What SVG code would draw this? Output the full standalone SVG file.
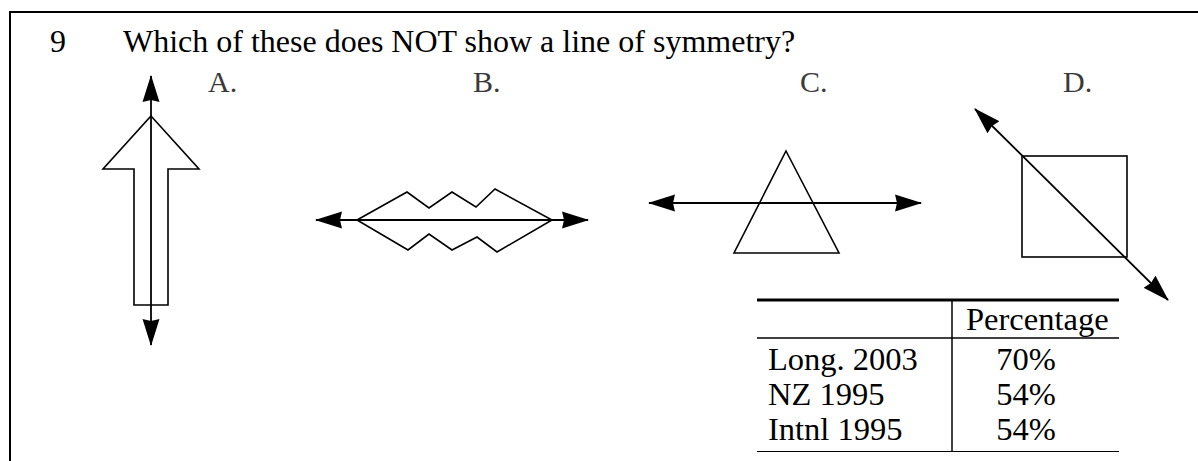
<svg xmlns="http://www.w3.org/2000/svg" width="1198" height="461" viewBox="0 0 1198 461">
<style>
.t{font-family:"Liberation Serif","Times New Roman",serif;fill:#000}
.cell{font-family:"Liberation Serif","Times New Roman",serif;font-size:32.5px;fill:#000}
.lbl{font-family:"Liberation Serif","Times New Roman",serif;font-size:30px;fill:#3a3a3a}
.shape{fill:none;stroke:#000;stroke-width:1.6;stroke-linejoin:miter}
.axis{fill:none;stroke:#000;stroke-width:1.8}
</style>
<defs>
<marker id="ah" viewBox="0 0 27 18" refX="26" refY="9" markerWidth="27" markerHeight="18" markerUnits="userSpaceOnUse" orient="auto-start-reverse">
<path d="M0,0.5 L27,9 L0,17.5 L2,9 Z" fill="#000"/>
</marker>
</defs>
<rect width="1198" height="461" fill="#fff"/>
<g id="frame">
<line x1="10" y1="12" x2="1198" y2="12" stroke="#000" stroke-width="2"/>
<line x1="10" y1="11" x2="10" y2="461" stroke="#000" stroke-width="2"/>
</g>
<g id="title">
<text class="t" x="50" y="52" font-size="32">9</text>
<text class="t" x="123" y="52" font-size="32">Which of these does NOT show a line of symmetry?</text>
</g>
<g id="optA">
<text class="lbl" x="208" y="92">A.</text>
<polygon class="shape" points="151,116 199,169 168,169 168,305 134,305 134,169 103,169"/>
</g>
<g id="optB">
<text class="lbl" x="473" y="92">B.</text>
<polygon class="shape" points="357,220 407,192 429,208 452,192 476,207 495,189 552,220 497,252 477,237 452,250 429,234 408,250"/>
</g>
<g id="optC">
<text class="lbl" x="800" y="92">C.</text>
<polygon class="shape" points="786,151 839,253 734,253"/>
</g>
<g id="optD">
<text class="lbl" x="1063" y="92">D.</text>
<rect class="shape" x="1022" y="156" width="105" height="101"/>
</g>
<g id="connectors">
<line class="axis" x1="151" y1="76" x2="151" y2="345" marker-start="url(#ah)" marker-end="url(#ah)"/>
<line class="axis" x1="316" y1="220" x2="588" y2="220" marker-start="url(#ah)" marker-end="url(#ah)"/>
<line class="axis" x1="649" y1="203" x2="921" y2="203" marker-start="url(#ah)" marker-end="url(#ah)"/>
<line class="axis" x1="975" y1="109" x2="1168" y2="300" marker-start="url(#ah)" marker-end="url(#ah)"/>
</g>
<g id="table">
<line x1="757" y1="300" x2="1119" y2="300" stroke="#000" stroke-width="3"/>
<line x1="757" y1="338" x2="1119" y2="338" stroke="#000" stroke-width="1.5"/>
<line x1="757" y1="451.5" x2="1119" y2="451.5" stroke="#000" stroke-width="1"/>
<line x1="952" y1="300" x2="952" y2="452" stroke="#000" stroke-width="1.5"/>
<text class="cell" x="966" y="330">Percentage</text>
<text class="cell" x="768" y="370">Long. 2003</text>
<text class="cell" x="768" y="405">NZ 1995</text>
<text class="cell" x="768" y="440">Intnl 1995</text>
<text class="cell" x="1026" y="370" text-anchor="middle">70%</text>
<text class="cell" x="1026" y="405" text-anchor="middle">54%</text>
<text class="cell" x="1026" y="440" text-anchor="middle">54%</text>
</g>
</svg>
